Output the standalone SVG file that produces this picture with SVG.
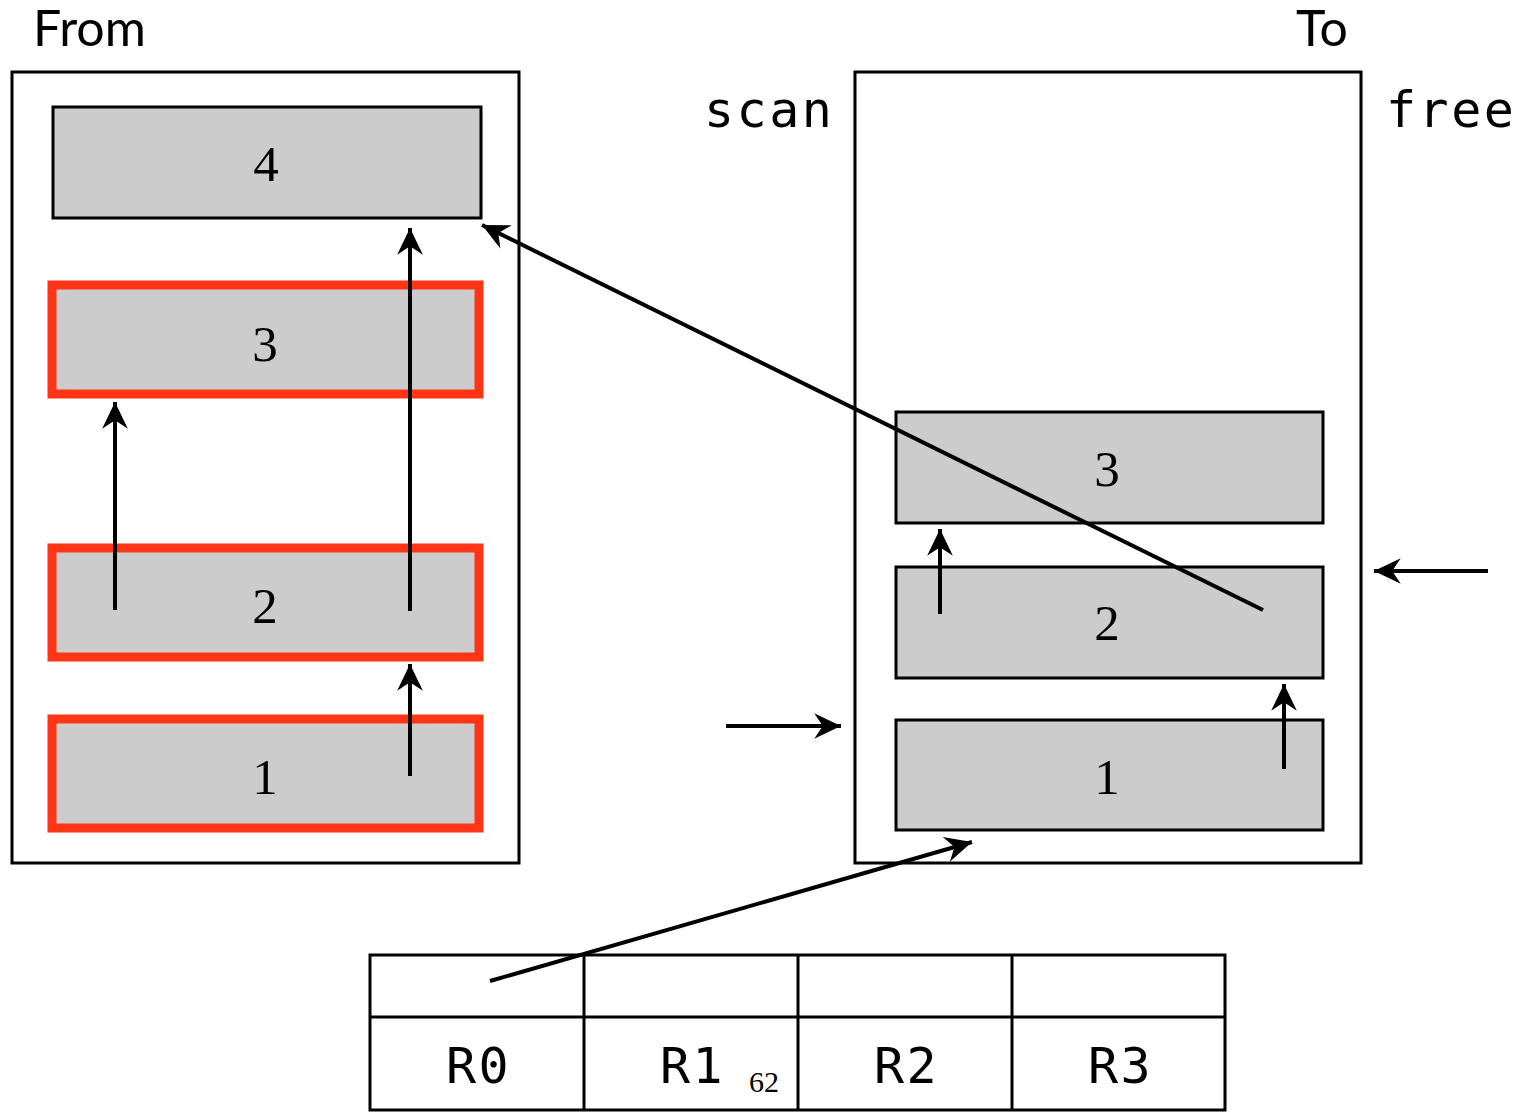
<svg xmlns="http://www.w3.org/2000/svg" width="1522" height="1112" viewBox="0 0 1522 1112">
<style>
.space{fill:#fff;stroke:#000;stroke-width:3}
.blk{fill:#cccccc;stroke:#000;stroke-width:3}
.live{fill:#cccccc;stroke:#ff3516;stroke-width:9}
.num{font-family:"Liberation Serif","DejaVu Serif",serif;font-size:51px;text-anchor:middle;fill:#000}
.ttl{font-family:Lato,"Liberation Sans",sans-serif;font-size:50px;fill:#000}
.mono{font-family:"DejaVu Sans Mono","Liberation Mono",monospace;font-size:50px;letter-spacing:2.5px;fill:#000}
.reg{fill:none;stroke:#000;stroke-width:3}
.c{fill:none;stroke:#000;stroke-width:4;marker-end:url(#ah)}
</style>
<defs>
<marker id="ah" markerUnits="userSpaceOnUse" markerWidth="30" markerHeight="30" viewBox="-26 -13 28 26" refX="0" refY="0" orient="auto">
<path d="M0,0 L-25,-12 L-17,0 L-25,12 Z" fill="#000"/>
</marker>
</defs>
<g id="from-space">
<rect class="space" x="12" y="72" width="507" height="791"/>
<text class="ttl" x="33" y="46">From</text>
</g>
<g id="to-space">
<rect class="space" x="855" y="72" width="506" height="791"/>
<text class="ttl" x="1296" y="46">To</text>
</g>
<g id="scan-label"><text class="mono" x="704" y="127">scan</text></g>
<g id="free-label"><text class="mono" x="1386" y="127">free</text></g>
<g id="from-4"><rect class="blk" x="53" y="107" width="428" height="111"/><text class="num" x="266" y="181">4</text></g>
<g id="from-3"><rect class="live" x="52" y="285" width="427" height="109"/><text class="num" x="265" y="361">3</text></g>
<g id="from-2"><rect class="live" x="52" y="548" width="427" height="109"/><text class="num" x="265" y="623">2</text></g>
<g id="from-1"><rect class="live" x="52" y="719" width="427" height="109"/><text class="num" x="265" y="794">1</text></g>
<g id="to-3"><rect class="blk" x="896" y="412" width="427" height="111"/><text class="num" x="1107" y="486">3</text></g>
<g id="to-2"><rect class="blk" x="896" y="567" width="427" height="111"/><text class="num" x="1107" y="640">2</text></g>
<g id="to-1"><rect class="blk" x="896" y="720" width="427" height="110"/><text class="num" x="1107" y="794">1</text></g>
<g id="registers">
<rect class="reg" x="370" y="955" width="855" height="155"/>
<line class="reg" x1="370" y1="1017" x2="1225" y2="1017"/>
<line class="reg" x1="584" y1="955" x2="584" y2="1110"/>
<line class="reg" x1="798" y1="955" x2="798" y2="1110"/>
<line class="reg" x1="1012" y1="955" x2="1012" y2="1110"/>
<text class="mono" x="446" y="1083">R0</text>
<text class="mono" x="660" y="1083">R1</text>
<text class="mono" x="874" y="1083">R2</text>
<text class="mono" x="1088" y="1083">R3</text>
<text x="764" y="1092" font-family="Liberation Serif,serif" font-size="30" text-anchor="middle">62</text>
</g>
<g id="connectors">
<line class="c" x1="115" y1="610" x2="115" y2="402"/>
<line class="c" x1="410" y1="611" x2="410" y2="228"/>
<line class="c" x1="410" y1="776" x2="410" y2="664"/>
<line class="c" x1="940" y1="614" x2="940" y2="529"/>
<line class="c" x1="1284" y1="769" x2="1284" y2="684"/>
<line class="c" x1="1263" y1="610" x2="482" y2="225"/>
<line class="c" x1="726" y1="726" x2="841" y2="726"/>
<line class="c" x1="1488" y1="571" x2="1374" y2="571"/>
<line class="c" x1="490" y1="981" x2="972" y2="842"/>
</g>
</svg>
